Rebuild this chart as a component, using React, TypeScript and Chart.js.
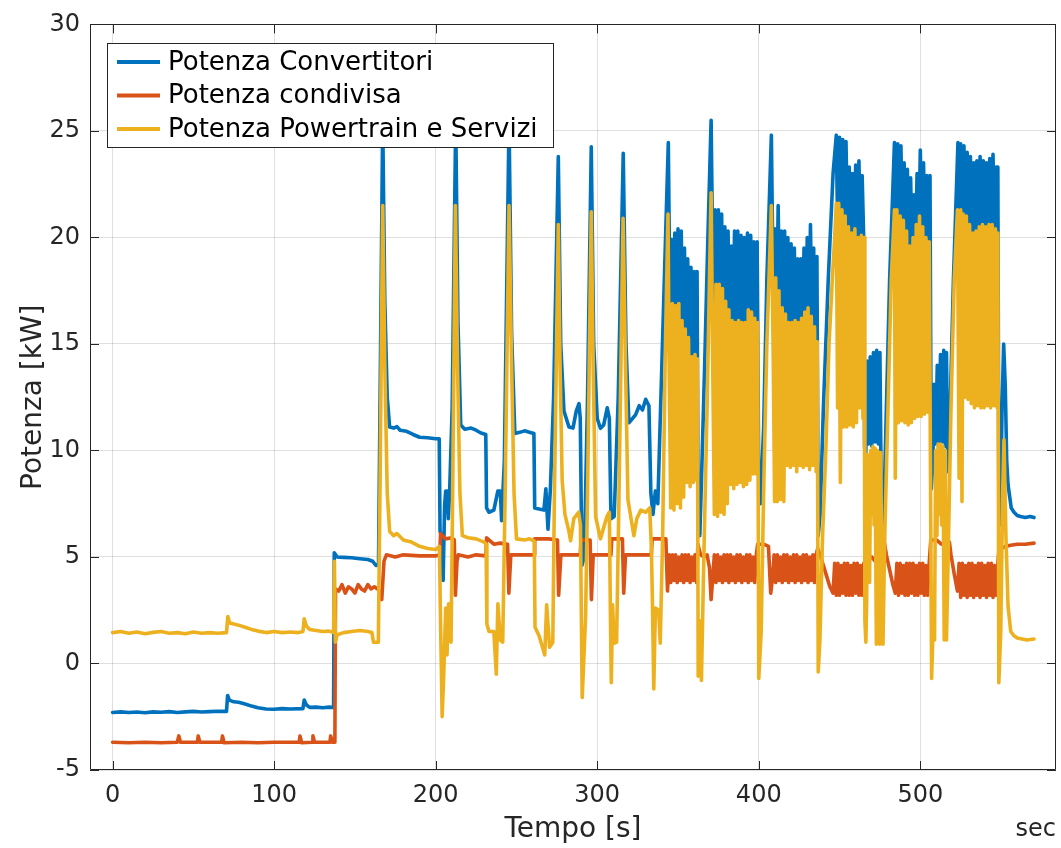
import React, { useEffect, useRef } from "react";
import { Chart, registerables } from "chart.js";

Chart.register(...registerables);

type Pt = [number, number];

const xTickValues = [0, 100, 200, 300, 400, 500];
const yTickValues = [-5, 0, 5, 10, 15, 20, 25, 30];
const seriesLabels = ["Potenza Convertitori", "Potenza condivisa", "Potenza Powertrain e Servizi"];
const seriesColors = ["#0072BD", "#D95319", "#EDB120"];
const xAxisTitle = "Tempo [s]";
const yAxisTitle = "Potenza [kW]";
const xUnitLabel = "sec";

// Potenza Convertitori [time s, kW]
const convertitoriPts: Pt[] = [
  [0,-2.3],[5,-2.27],[10,-2.3],[15,-2.28],[20,-2.31],[25,-2.27],[30,-2.29],[35,-2.26],[40,-2.3],[45,-2.27],[50,-2.25],[55,-2.28],[60,-2.26],[65,-2.24],[70.5,-2.25],[71.2,-1.5],[72.3,-1.72],[75,-1.8],[78,-1.82],[82,-1.9],[86,-2.0],[90,-2.08],[95,-2.14],[100,-2.15],[105,-2.12],[110,-2.14],[117.8,-2.12],[118.6,-1.72],[120,-1.95],[122,-2.06],[126,-2.05],[130,-2.08],[134,-2.05],[136.8,-2.07],
  [137.2,5.2],[139,5.0],[143,4.98],[148,4.96],[153,4.92],[158,4.88],[161,4.8],[163,4.6],[164.6,4.65],
  [167.2,25.5],[168.5,17],[170,12.5],[171.5,11.1],[174,11.05],[176,11.12],[178,10.95],[182,10.9],[186,10.75],[190,10.62],[195,10.6],[200,10.55],[202.2,10.55],[202.7,6.2],[203.6,6.0],[204.6,3.9],[205.5,7.4],[206.2,8.1],[207.2,8.1],[207.8,6.8],[208.6,8.0],[210.2,12],
  [212.4,25.5],[213.8,16],[215.5,11.2],[218,11.0],[222,11.05],[225,10.95],[228,10.82],[231,10.75],[231.5,7.3],[233,7.1],[236,7.2],[238.5,8.1],[240,8.1],[240.8,6.7],[242.5,9.5],
  [245.4,25.5],[247,15.5],[249,10.8],[252,10.85],[255,10.92],[258,10.86],[260.8,10.8],[261.3,7.3],[264,7.25],[267,7.2],[268.2,8.2],[269.5,6.3],[271,8.2],[273,12.5],
  [275.9,23.8],[277.4,15],[279.4,11.85],[282.5,11.1],[285,11.05],[287,11.85],[288.7,12.2],[289.5,11.5],[290.5,4.6],[292,5.0],[294,12.5],
  [296.3,24.25],[297.8,15],[300,11.5],[302,11.04],[304,11.2],[306.2,12.0],[307.5,11.5],[308.5,6.8],[310.5,6.9],[313,12.5],
  [316.1,23.95],[317.8,15],[319.6,11.3],[323.7,11.67],[326,12.1],[328,11.9],[330,12.4],[332,12.1],[333.2,8.0],[334.5,7.0],[336,8.1],[337.5,7.5],[340,14],
  [344,24.45],[345,17],[346,19.9],[347,15],[348,20.2],[349,15.5],[350,20.4],[351,15.2],[352,20.3],[353,15],[354,19.5],[355,14.6],[356,19.0],[357,14.2],[358,18.6],[359,13.8],[360,18.4],[361,13.6],[361.8,18.4],[362.4,8.2],[363.5,6.0],[364.5,8.5],[366.5,14],[368.5,20],
  [370.5,25.5],[371.8,17],[373,21.3],[374,15.8],[375,21.3],[376,16],[377,21.1],[378,15.5],[379,20.5],[380,15.4],[381,20.3],[382,15.2],[383,19.6],[384,15.1],[385,20.3],[386,15],[387,20.3],[388,15.1],[389,20.1],[390,15],[391,20.0],[392,15.1],[393,20.2],[394,15.3],[395,20.1],[396,15.2],[397,19.8],[398,15.1],[399,19.8],[400,8.5],[401,7.5],[403,11],[405,18],
  [407.8,24.8],[409,17],[410,20.4],[411,15.5],[412,21.5],[413,15.8],[414,20.3],[415,15.5],[416,20.3],[417,15.2],[418,20.0],[419,15],[420,19.7],[421,15],[422,19.5],[423,15.1],[424,19.0],[425,15],[426,19.0],[427,15.1],[428,19.5],[429,15.3],[430,20.0],[431,15.5],[432,20.6],[433,15.3],[434,19.5],[435,14.5],[436,19.1],[436.8,6.0],[438,7.0],[440,12],[443,18],[446,23],
  [448,24.8],[449,19.5],[450,24.7],[451,20],[452,24.6],[453,20.5],[454,24.5],[455,20],[456,23.3],[457,19.8],[458,23.0],[459,19.8],[460,23.4],[461,20],[462,23.6],[463,19.5],[464,22.9],[465,19.8],[465.5,10.2],[466.2,9.5],
  [467,14.2],[468,10.3],[469,14.4],[470,10.2],[471,14.6],[472,10.4],[473,14.7],[474,10.3],[475,14.6],[476,6.5],[477.2,6.5],[479,12],[481,18],
  [484,24.45],[485,19.8],[486,24.4],[487,20],[488,24.3],[489,19.8],[490,23.5],[491,19.5],[492,23.2],[493,19.3],[494,22.8],[495,19],[496,22.0],[497,19.5],[498,23.0],[499,19.8],[500,24.1],[501,19.8],[502,23.5],[503,19.5],[504,22.9],[505,19.5],[506,22.9],[506.8,8.2],[507.8,9.5],
  [508.5,13.1],[509.5,10.3],[510.5,14.0],[511.5,10.3],[512.5,14.5],[513.5,10.4],[514.5,14.7],[515.5,10.2],[516.2,14.6],[517,9.0],[518.5,12],[520.5,18],
  [523.3,24.45],[524,19.8],[525,24.4],[526,20],[527,24.3],[528,19.8],[529,24.0],[530,19.8],[531,23.8],[532,19.5],[533,23.5],[534,19.5],[535,23.6],[536,19.6],[537,23.8],[538,19.8],[539,23.6],[540,19.7],[541,23.5],[542,19.8],[543,23.7],[544,20],[545,23.9],[546,19.8],[547,23.3],[548,23.3],[548.6,8.0],[549.6,6.5],[550.6,12],
  [551.6,15.0],[552.6,13],[553.5,9.5],[554.3,8.4],[556.3,7.3],[558,7.1],[560,6.95],[562,6.9],[565,6.85],[568,6.9],[570.4,6.85],
];

// Potenza condivisa [time s, kW]
const condivisaPts: Pt[] = [
  [0,-3.7],[10,-3.72],[20,-3.7],[30,-3.72],[40,-3.7],[41,-3.4],[42,-3.7],[52.5,-3.7],[53,-3.4],[54,-3.7],[67.5,-3.7],[68,-3.4],[69,-3.72],[80,-3.7],[90,-3.72],[100,-3.7],[115.5,-3.7],[116,-3.4],[117,-3.72],[123.5,-3.7],[124,-3.4],[125,-3.7],[134.5,-3.7],[135,-3.4],[136,-3.7],[137.6,-3.7],
  [138,3.5],[140,3.4],[142,3.7],[144,3.3],[146,3.6],[148,3.5],[150,3.3],[152,3.7],[154,3.5],[156,3.4],[158,3.7],[160,3.5],[162,3.6],[164,3.5],[165.5,3.4],[166.6,3.0],[168,4.8],[169.5,5.1],[175,5.0],[180,5.1],[190,5.05],[200,5.05],[202.5,5.1],
  [203,6.1],[206,5.85],[210,5.9],[211.5,5.8],[212.2,3.2],[213.2,4.8],[214,5.1],[220,5.0],[225,5.1],[231,5.05],[231.5,5.9],[236,5.6],[240,5.65],[244.5,5.6],[245.3,3.3],[246.5,5.1],[255,5.1],[261,5.1],
  [261.3,5.85],[270,5.85],[275.4,5.8],[276.1,3.2],[277.5,5.1],[285,5.1],[289.5,5.1],[290,5.8],[295.6,5.8],[296.4,3.0],[297.5,5.1],[305,5.1],[308.5,5.1],[309,5.85],[315.6,5.85],[316.4,3.3],[317.5,5.1],[325,5.1],[333.5,5.1],[334,5.85],[342.5,5.85],[343.5,3.4],[344.5,5.1],
  [345.5,3.8],[346.5,5.1],[347.5,3.9],[348.5,5.1],[349.5,3.8],[350.5,5.0],[351.5,3.9],[352.5,5.1],[353.5,3.8],[354.5,5.1],[355.5,3.9],[356.5,5.1],[357.5,3.8],[358.5,5.0],[359.5,3.9],[360.5,5.1],[361.5,3.8],[362.3,5.6],[364,5.1],[366,5.0],[368,5.1],[369.5,4.5],[370.5,3.0],[371.5,4.0],
  [372.5,5.1],[373.5,3.8],[374.5,5.1],[375.5,3.9],[376.5,5.0],[377.5,3.8],[378.5,5.1],[379.5,3.9],[380.5,5.1],[381.5,3.8],[382.5,5.1],[383.5,3.9],[384.5,5.0],[385.5,3.8],[386.5,5.1],[387.5,3.9],[388.5,5.1],[389.5,3.8],[390.5,5.0],[391.5,3.9],[392.5,5.1],[393.5,3.8],[394.5,5.1],[395.5,3.9],[396.5,5.0],[397.5,3.8],[398.5,5.1],[399.3,5.6],[403,5.6],[406,5.5],[407.4,3.3],[408.5,4.0],
  [409.5,5.1],[410.5,3.8],[411.5,5.1],[412.5,3.9],[413.5,5.0],[414.5,3.8],[415.5,5.1],[416.5,3.9],[417.5,5.1],[418.5,3.8],[419.5,5.0],[420.5,3.9],[421.5,5.1],[422.5,3.8],[423.5,5.1],[424.5,3.9],[425.5,5.0],[426.5,3.8],[427.5,5.1],[428.5,3.9],[429.5,5.1],[430.5,3.8],[431.5,5.0],[432.5,3.9],[433.5,5.1],[434.5,3.8],[435.5,5.1],[436.5,5.4],[438,5.1],[440,4.6],[442,4.1],[444,3.6],[446,3.3],
  [447,4.7],[448,3.2],[449,4.7],[450,3.2],[451,4.6],[452,3.3],[453,4.7],[454,3.2],[455,4.7],[456,3.2],[457,4.6],[458,3.2],[459,4.7],[460,3.3],[461,4.7],[462,3.2],[463,4.6],[464,3.2],[465,4.7],[466,4.8],[468,4.9],[470,5.0],[472,4.8],[474,5.0],[476,5.8],[477.5,5.8],[479,5.1],[481,4.4],[483,3.7],[484.5,3.3],
  [485.5,4.7],[486.5,3.2],[487.5,4.7],[488.5,3.3],[489.5,4.6],[490.5,3.2],[491.5,4.7],[492.5,3.2],[493.5,4.7],[494.5,3.3],[495.5,4.7],[496.5,3.2],[497.5,4.6],[498.5,3.2],[499.5,4.7],[500.5,3.3],[501.5,4.7],[502.5,3.2],[503.5,4.6],[504.5,3.2],[505.5,4.7],[506.5,5.8],[510,5.8],[513,5.6],[516,5.7],[518,5.7],[519,5.1],[521,4.2],[523,3.4],
  [524,4.7],[525,3.1],[526,4.7],[527,3.2],[528,4.6],[529,3.1],[530,4.7],[531,3.2],[532,4.7],[533,3.1],[534,4.6],[535,3.2],[536,4.7],[537,3.1],[538,4.7],[539,3.2],[540,4.6],[541,3.1],[542,4.7],[543,3.2],[544,4.7],[545,3.1],[546,4.6],[547,3.2],[548,4.7],[548.6,5.3],[550,5.4],[553,5.5],[556,5.55],[560,5.6],[565,5.6],[570.4,5.65],
];

// Potenza Powertrain e Servizi [time s, kW]
const powertrainPts: Pt[] = [
  [0,1.45],[5,1.5],[10,1.42],[15,1.48],[20,1.4],[25,1.46],[30,1.5],[35,1.42],[40,1.45],[45,1.4],[50,1.48],[55,1.42],[60,1.45],[65,1.42],[70.5,1.45],[71.3,2.2],[72.5,1.9],[75,1.85],[78,1.8],[82,1.7],[86,1.6],[90,1.52],[95,1.45],[100,1.5],[105,1.45],[110,1.48],[115,1.45],[117.8,1.5],[118.6,2.1],[120,1.75],[122,1.6],[126,1.55],[130,1.5],[134,1.52],[136.8,1.45],
  [137.3,4.8],[137.9,1.0],[139,1.35],[143,1.45],[148,1.5],[153,1.55],[158,1.5],[160.5,1.45],[161.5,1.0],[164.5,1.0],[165.5,8],
  [167.2,21.5],[168.5,14],[170,8],[171.5,6.2],[174,6.0],[176,6.1],[180,5.8],[185,5.7],[190,5.5],[195,5.4],[200,5.35],[202.3,5.5],[203,2],[204,-2.5],[205,-0.5],[206.2,2.6],[207,0.4],[208,2.8],[209.5,1.0],[210.5,8],
  [212.2,21.5],[213.5,14],[215,8],[216.5,6],[220,5.9],[225,5.85],[230,5.7],[231.2,5.6],[231.7,1.85],[233,1.5],[236,1.5],[237.5,-0.5],[238.5,2.8],[240,1.1],[241.5,1.0],[243,8],
  [245.4,21.5],[247,14],[248.5,8],[250,5.85],[255,5.8],[258,5.85],[261,5.75],[261.5,1.7],[264,1.3],[267.5,0.4],[268.7,2.76],[270.5,0.76],[272.5,1.0],[273.5,8],
  [275.9,20.6],[277,14],[278.3,8.6],[280,7],[282.5,6.2],[283.5,5.76],[285.5,6.8],[288.5,7.1],[289.6,6.5],[290.7,-1.6],[292.8,2.2],[294,8],
  [296.3,21.2],[297.5,14],[299,6.9],[302,5.85],[306,6.9],[307.5,7.1],[308.2,2.0],[308.7,-0.9],[309.5,2.76],[310.5,0.95],[312,1.0],[313.5,8],
  [316,20.9],[317.5,14],[319,7.7],[322.7,6.0],[324.5,6.8],[327,7.2],[330,7.1],[332.5,7.3],[333.5,5.5],[334.2,2.8],[335,-1.2],[336,2.6],[338,2.5],[339,0.95],[340.5,6],[342,14],
  [343.8,21.1],[344.5,14],[345.5,7.3],[346.5,16.9],[347.5,7.2],[348.5,16.8],[349.5,7.5],[350.5,16.9],[351.5,7.3],[352.5,16.1],[353.5,7.8],[354.5,15.7],[355.5,8.5],[356.5,15.3],[357.5,8.3],[358.5,14.4],[359.5,8.5],[360.5,14.5],[361.5,8.6],[362,14.3],[362.5,-0.6],[363.5,2],[364.5,-0.8],[366,5],[368,12],
  [370.5,22.1],[371.5,14],[372.5,7],[373.5,17.8],[374.5,6.9],[375.5,17.8],[376.5,7.1],[377.5,17.6],[378.5,7.0],[379.5,17.0],[380.5,7.5],[381.5,16.6],[382.5,8.4],[383.5,16.1],[384.5,8.2],[385.5,16.0],[386.5,8.4],[387.5,16.1],[388.5,8.5],[389.5,16.0],[390.5,8.3],[391.5,16.0],[392.5,8.4],[393.5,16.6],[394.5,8.6],[395.5,16.5],[396.5,8.9],[397.5,16.2],[398.5,8.9],[399.3,16.0],[400,-0.7],[401.5,1.5],[403,8],[405,15],
  [407.8,21.5],[409,14],[409.8,7.6],[410.5,18.1],[411.5,7.6],[412.5,17.5],[413.5,7.7],[414.5,16.7],[415.5,7.6],[416.5,16.4],[417.5,9.3],[418.5,16.0],[419.5,9.2],[420.5,16.0],[421.5,9.3],[422.5,16.1],[423.5,9.0],[424.5,16.0],[425.5,9.3],[426.5,16.2],[427.5,9.2],[428.5,16.5],[429.5,9.3],[430.5,16.7],[431.5,9.1],[432.5,16.3],[433.5,9.3],[434.5,15.8],[435.5,9.0],[436.2,15.1],[436.8,-0.4],[437.8,1.0],[439.5,6],[441.5,10],[443.5,15],[445.5,18],[447,20],
  [448,21.6],[448.8,12],[449.5,21.6],[450.5,8.5],[451.5,21.3],[452.5,11.1],[453.5,21.0],[454.5,11.1],[455.5,20.5],[456.5,11.2],[457.5,20.2],[458.5,11.1],[459.5,20.4],[460.5,11.3],[461.5,20.0],[462.5,12.0],[463.5,20.1],[464.5,11.5],[465.2,20],[465.7,2],[466.3,1.0],
  [466.8,3],[467.3,9.8],[468,6],[468.6,3.8],[469.3,10.0],[470,7],[470.7,10.2],[471.4,6.5],[472,10.1],[472.8,0.9],[473.6,10.0],[474.3,7],[474.9,0.9],[475.5,9.9],[476.2,4],[476.9,0.9],[478,6],[480,12],[482,18],
  [484,21.3],[484.5,8.7],[485.5,21.3],[486.5,11.3],[487.5,21.0],[488.5,11.4],[489.5,20.8],[490.5,11.3],[491.5,20.3],[492.5,11.2],[493.5,19.6],[494.5,11.3],[495.5,20.0],[496.5,11.5],[497.5,20.6],[498.5,11.6],[499.5,21.0],[500.5,11.6],[501.5,20.5],[502.5,11.7],[503.5,20.0],[504.5,11.8],[505.5,19.8],[506.3,9],[507,-0.7],
  [508,2],[508.8,1.1],[509.5,10.0],[510.3,6],[511,10.3],[511.8,7],[512.5,10.3],[513.2,6.5],[514,10.2],[514.8,1.1],[515.5,10.0],[516.2,1.1],[517.5,6],[519,12],[521,18],
  [523,21.3],[524,8.7],[525,21.3],[525.8,7.6],[526.5,21.1],[527.5,12.5],[528.5,21.0],[529.5,12.4],[530.5,20.6],[531.5,12.2],[532.5,20.2],[533.5,12.0],[534.5,20.3],[535.5,12.1],[536.5,20.5],[537.5,12.0],[538.5,20.6],[539.5,12.0],[540.5,20.5],[541.5,12.1],[542.5,20.6],[543.5,12.0],[544.5,20.6],[545.5,12.1],[546.5,20.4],[547.5,12.0],[548,20.2],[548.6,-0.9],[549.8,1.5],[551,8],
  [551.8,10.5],[553,6],[554.3,2.7],[556,1.5],[558,1.3],[560,1.2],[563,1.15],[566,1.1],[570.4,1.15],
];

const FONT = '"DejaVu Sans", "Noto Sans", sans-serif';
const TEXT = "#262626";
const GRID = "rgba(38,38,38,0.15)";

const framePlugin = {
  id: "matlabFrame",
  afterDatasetsDraw(chart: any) {
    const { ctx, chartArea: a, scales } = chart;
    const tl = 9;
    ctx.save();
    ctx.strokeStyle = TEXT;
    ctx.lineWidth = 1;
    ctx.beginPath();
    ctx.rect(Math.round(a.left) + 0.5, Math.round(a.top) + 0.5, Math.round(a.right - a.left) - 1, Math.round(a.bottom - a.top) - 1);
    for (const v of xTickValues) {
      const px = Math.round(scales.x.getPixelForValue(v)) + 0.5;
      ctx.moveTo(px, a.bottom);
      ctx.lineTo(px, a.bottom - tl);
      ctx.moveTo(px, a.top);
      ctx.lineTo(px, a.top + tl);
    }
    for (const v of yTickValues) {
      const py = Math.round(scales.y.getPixelForValue(v)) + 0.5;
      ctx.moveTo(a.left, py);
      ctx.lineTo(a.left + tl, py);
      ctx.moveTo(a.right, py);
      ctx.lineTo(a.right - tl, py);
    }
    ctx.stroke();
    ctx.restore();
  },
  afterDraw(chart: any) {
    const { ctx, chartArea: a } = chart;
    ctx.save();
    ctx.fillStyle = TEXT;
    ctx.font = `28px ${FONT}`;
    ctx.textAlign = "center";
    ctx.textBaseline = "middle";
    ctx.fillText(xAxisTitle, (a.left + a.right) / 2, 830);
    ctx.save();
    ctx.translate(34, (a.top + a.bottom) / 2);
    ctx.rotate(-Math.PI / 2);
    ctx.fillText(yAxisTitle, 0, 0);
    ctx.restore();
    ctx.font = `24px ${FONT}`;
    ctx.textAlign = "right";
    ctx.fillText(xUnitLabel, a.right, 830);

    // legend
    const bx = 107.5, by = 43.5, bw = 446, bh = 104;
    ctx.fillStyle = "#ffffff";
    ctx.fillRect(bx, by, bw, bh);
    ctx.strokeStyle = TEXT;
    ctx.lineWidth = 1;
    ctx.strokeRect(bx, by, bw, bh);
    const rows = [62, 95.5, 129];
    ctx.font = `26px ${FONT}`;
    ctx.textAlign = "left";
    ctx.textBaseline = "middle";
    chart.data.datasets.forEach((ds: any, i: number) => {
      const y = rows[i];
      ctx.strokeStyle = ds.borderColor;
      ctx.lineWidth = 4;
      ctx.beginPath();
      ctx.moveTo(117, y);
      ctx.lineTo(160, y);
      ctx.stroke();
      ctx.fillStyle = "#000000";
      ctx.fillText(ds.label, 168, y + 1);
    });
    ctx.restore();
  },
};

export default function App() {
  const canvasRef = useRef<HTMLCanvasElement | null>(null);

  useEffect(() => {
    const canvas = canvasRef.current;
    if (!canvas) return;
    const toXY = (pts: Pt[]) => pts.map(([x, y]) => ({ x, y }));
    const allPts = [convertitoriPts, condivisaPts, powertrainPts];
    const chart = new Chart(canvas, {
      type: "line",
      data: {
        datasets: allPts.map((pts, i) => ({
          label: seriesLabels[i],
          data: toXY(pts),
          borderColor: seriesColors[i],
          backgroundColor: seriesColors[i],
          borderWidth: 3.6,
          borderJoinStyle: "round" as const,
          borderCapStyle: "round" as const,
          pointRadius: 0,
          tension: 0,
          fill: false,
          order: 3 - i,
        })),
      },
      options: {
        responsive: false,
        animation: false,
        devicePixelRatio: 1,
        layout: { padding: { top: 22, right: 5, left: 0, bottom: 0 } },
        plugins: {
          legend: { display: false },
          tooltip: { enabled: false },
          title: { display: false },
        },
        scales: {
          x: {
            type: "linear",
            min: -14,
            max: 584,
            afterBuildTicks: (s: any) => {
              s.ticks = xTickValues.map((v) => ({ value: v }));
            },
            afterFit: (s: any) => {
              s.height = 78;
            },
            grid: { color: GRID, lineWidth: 1, drawTicks: false },
            border: { display: false },
            ticks: {
              font: { family: FONT, size: 24 },
              color: TEXT,
              padding: 11,
              maxRotation: 0,
              autoSkip: false,
            },
          },
          y: {
            type: "linear",
            min: -5,
            max: 30,
            afterBuildTicks: (s: any) => {
              s.ticks = yTickValues.map((v) => ({ value: v }));
            },
            afterFit: (s: any) => {
              s.width = 90;
            },
            grid: { color: GRID, lineWidth: 1, drawTicks: false },
            border: { display: false },
            ticks: {
              font: { family: FONT, size: 24 },
              color: TEXT,
              padding: 10,
              autoSkip: false,
            },
          },
        },
      },
      plugins: [framePlugin],
    });
    return () => chart.destroy();
  }, []);

  return (
    <div style={{ position: "absolute", left: 0, top: 0, width: 1061, height: 848, background: "#ffffff" }}>
      <canvas ref={canvasRef} width={1061} height={848} style={{ display: "block", width: 1061, height: 848 }} />
    </div>
  );
}
